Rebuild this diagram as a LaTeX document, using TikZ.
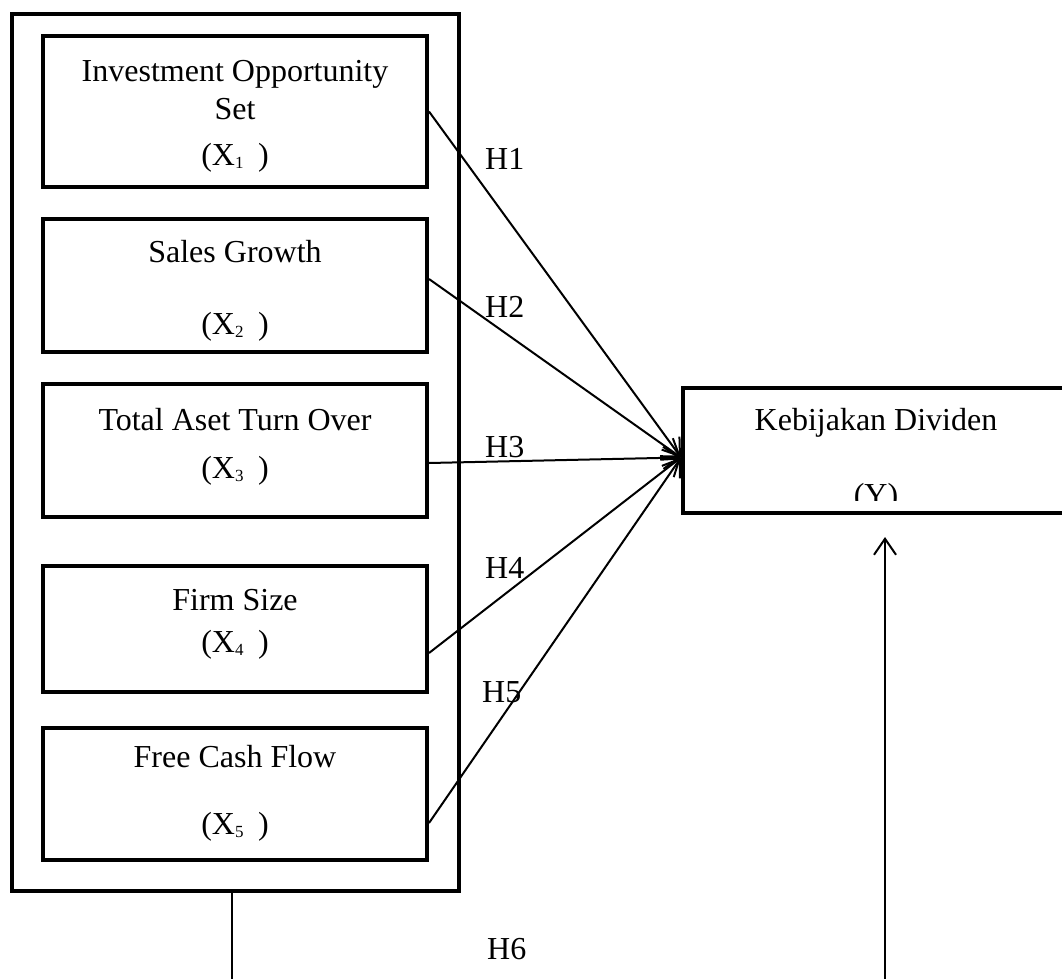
\documentclass[tikz,border=0pt]{standalone}
\usepackage{fontspec}
\setmainfont{Liberation Serif}
\usetikzlibrary{arrows.meta,calc}
\newcommand{\subx}[1]{\raisebox{-3pt}{\fontsize{17}{17}\selectfont #1}}
\begin{document}
\begin{tikzpicture}[x=1pt,y=-1pt,
  box/.style={draw,line width=4pt,inner sep=0pt,minimum width=384pt},
  txt/.style={font=\fontsize{32}{38}\selectfont,inner sep=0pt,anchor=base},
  hlab/.style={font=\fontsize{32}{38}\selectfont,inner sep=0pt,anchor=west},
  conn/.style={line width=2pt,-{Straight Barb[length=16pt,width=22pt,line width=2pt]}},
  thin/.style={line width=1.5pt},
]
\useasboundingbox (0,0) rectangle (1062,979);
\clip (0,0) rectangle (1062,979);

% outer frame
\node[box,minimum width=447pt,minimum height=877pt] (outer) at (235.5,452.5) {};

% inner boxes
\node[box,minimum height=151pt] (b1) at (235,111.5) {};
\node[box,minimum height=133pt] (b2) at (235,285.5) {};
\node[box,minimum height=133pt] (b3) at (235,450.5) {};
\node[box,minimum height=126pt] (b4) at (235,629) {};
\node[box,minimum height=132pt] (b5) at (235,794) {};

% dependent box
\node[box,minimum width=386pt,minimum height=125pt] (y) at (876,450.5) {};

% texts
\node[txt] (t1a) at (235,82) {Investment Opportunity};
\node[txt] (t1b) at (235,120) {Set};
\node[txt] (t1c) at (235,165) {(X\subx{1}\hspace{0.45em})};
\node[txt] (t2a) at (235,262) {Sales Growth};
\node[txt] (t2b) at (235,334) {(X\subx{2}\hspace{0.45em})};
\node[txt] (t3a) at (235,430) {Total Aset Turn Over};
\node[txt] (t3b) at (235,478) {(X\subx{3}\hspace{0.45em})};
\node[txt] (t4a) at (235,610) {Firm Size};
\node[txt] (t4b) at (235,652) {(X\subx{4}\hspace{0.45em})};
\node[txt] (t5a) at (235,767) {Free Cash Flow};
\node[txt] (t5b) at (235,834) {(X\subx{5}\hspace{0.45em})};

\node[txt] (yt) at (876,430) {Kebijakan Dividen};
\begin{scope}
  \clip (683,380) rectangle (1062,500);
  \node[txt] (yl) at (876,505) {(Y)};
\end{scope}

% connectors
\coordinate (tip) at ($(y.west)+(0,7)$);
\draw[conn] (b1.east) -- (tip);
\draw[conn] ([yshift=6.5pt]b2.east) -- (tip);
\draw[conn] ([yshift=-12.5pt]b3.east) -- (tip);
\draw[conn] ([yshift=-24pt]b4.east) -- (tip);
\draw[conn] ([yshift=-29pt]b5.east) -- (tip);

\coordinate (bl) at (232,990);
\draw[thin] ([xshift=-3.5pt]outer.south) -- (bl);
\coordinate (br) at (885,990);
\coordinate (bt) at (885,537);
\draw[conn,line width=1.5pt] (br) -- (bt);

% labels
\node[hlab] (h1) at (485,159) {H1};
\node[hlab] (h2) at (485,307) {H2};
\node[hlab] (h3) at (485,447) {H3};
\node[hlab] (h4) at (485,568) {H4};
\node[hlab] (h5) at (482,692) {H5};
\node[hlab] (h6) at (487,949) {H6};
\end{tikzpicture}
\end{document}
